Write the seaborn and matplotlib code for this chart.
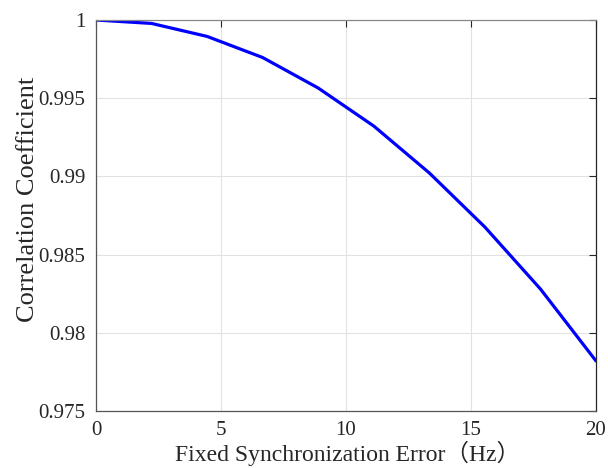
import numpy as np
import pandas as pd
import matplotlib
matplotlib.use("Agg")
import matplotlib.pyplot as plt
import seaborn as sns

freq_error = [0, 2.222, 4.444, 6.667, 8.889, 11.111, 13.333, 15.556, 17.778, 20]
corr_coef = [1.0, 0.99978, 0.99895, 0.9976, 0.99565, 0.99322, 0.99022, 0.98676, 0.9828, 0.9782]
x_ticks = [0, 5, 10, 15, 20]
y_ticks = [0.975, 0.98, 0.985, 0.99, 0.995, 1.0]
y_labels = ["0.975", "0.98", "0.985", "0.99", "0.995", "1"]

sns.set_style("white")
plt.rcParams['font.family'] = ['Liberation Serif', 'Noto Sans CJK SC']

df = pd.DataFrame({"x": freq_error, "y": corr_coef})
fig = plt.figure(figsize=(6.08, 4.68), dpi=100)
ax = fig.add_axes([96/608, 1 - 411/468, 500/608, 391/468])
sns.lineplot(data=df, x="x", y="y", ax=ax, color="#0000ff", linewidth=2.3)
ax.set_xlim(0, 20)
ax.set_ylim(0.975, 1.0)
ax.set_xticks(x_ticks)
ax.set_xticklabels([str(t) for t in x_ticks])
ax.set_yticks(y_ticks)
ax.set_yticklabels(y_labels)
ax.grid(True, color="#e2e2e2", linewidth=0.8)
ax.tick_params(direction="in", top=True, right=True, length=5, width=0.8,
               labelsize=15, colors="#262626")
ax.tick_params(axis="x", pad=7)
ax.tick_params(axis="y", pad=7.5)
for s in ax.spines.values():
    s.set_visible(True)
    s.set_linewidth(0.9)
ax.spines['left'].set_color("#555555")
ax.spines['bottom'].set_color("#555555")
ax.spines['top'].set_color("#888888")
ax.spines['right'].set_color("#262626")
xl = ax.set_xlabel("Fixed Synchronization Error（Hz）", fontsize=17, color="#262626")
yl = ax.set_ylabel("Correlation Coefficient", fontsize=19, color="#262626")
xl.set_va("baseline")
yl.set_va("baseline")
ax.xaxis.set_label_coords(0.504, -0.127)
ax.yaxis.set_label_coords(-0.124, 0.54)
fig.savefig("out.png", dpi=100)
